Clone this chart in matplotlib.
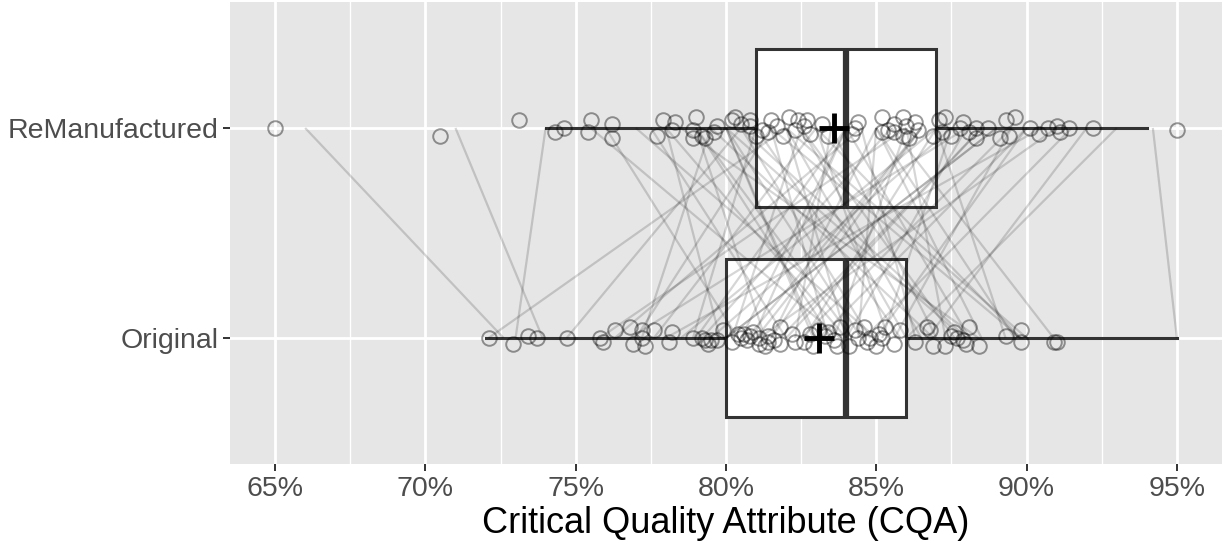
#!/usr/bin/env python3
"""Paired CQA comparison: Original vs ReManufactured, ggplot-like boxplot."""

import matplotlib

matplotlib.use("Agg")
import matplotlib.pyplot as plt
from matplotlib.collections import LineCollection
from matplotlib.ticker import FuncFormatter, MultipleLocator

plt.rcParams["font.family"] = ["Liberation Sans", "DejaVu Sans"]

CATEGORIES = ["Original", "ReManufactured"]

# box statistics (percent)
WHISKER_LO = [72.0, 74.0]
Q1 = [80.0, 81.0]
MEDIAN = [84.0, 84.0]
Q3 = [86.0, 87.0]
WHISKER_HI = [95.0, 94.0]
MEAN = [83.1, 83.6]

# jittered points: x value and vertical offset from the category line
ORIG_X = [
    72.1, 72.9, 73.4, 73.7, 74.7, 75.8, 75.9, 76.3, 76.8, 76.9,
    77.2, 77.2, 77.3, 77.6, 78.1, 78.2, 78.9, 79.2, 79.3, 79.5,
    79.7, 79.9, 80.2, 80.4, 80.5, 80.7, 80.8, 80.9, 81.1, 81.1,
    81.3, 81.4, 81.4, 81.8, 81.8, 82.2, 82.3, 82.6, 82.9, 83.1,
    83.4, 83.6, 83.7, 83.8, 84.3, 84.4, 84.6, 84.7, 84.8, 85.0,
    85.1, 85.3, 85.6, 85.8, 86.3, 86.7, 86.8, 86.9, 87.3, 87.6,
    87.7, 87.9, 88.1, 88.0, 88.4, 89.3, 89.8, 89.8, 90.9, 91.0,
    79.4, 80.6, 81.6, 82.8, 84.1, 85.2, 87.5, 83.3,
]
ORIG_DY = [
    0.00, -0.03, 0.01, 0.00, 0.00, 0.00, -0.02, 0.04, 0.05, -0.03,
    0.04, 0.00, -0.04, 0.04, -0.02, 0.03, 0.00, 0.00, -0.01, -0.01,
    -0.01, 0.04, -0.02, 0.02, 0.00, -0.01, 0.01, 0.03, 0.00, -0.03,
    -0.04, 0.01, -0.02, 0.05, -0.03, 0.02, -0.02, -0.02, -0.04, 0.04,
    0.03, -0.01, -0.04, 0.05, 0.04, 0.00, 0.05, -0.02, 0.00, -0.04,
    0.02, 0.05, -0.03, 0.04, -0.02, 0.05, 0.04, -0.04, -0.04, 0.03,
    0.00, -0.01, 0.05, -0.03, -0.04, 0.01, 0.04, -0.02, -0.02, -0.02,
    -0.03, 0.02, -0.01, 0.02, -0.04, 0.00, 0.01, 0.01,
]
REMAN_X = [
    65.0, 70.5, 73.1, 74.3, 74.6, 75.5, 75.4, 76.2, 76.2, 77.7,
    77.9, 78.2, 78.3, 79.0, 78.9, 78.9, 79.2, 79.3, 79.6, 79.7,
    80.2, 80.3, 80.5, 80.8, 80.8, 81.0, 81.4, 81.5, 81.7, 81.9,
    82.1, 82.3, 82.4, 82.7, 82.8, 83.2, 83.4, 84.3, 84.2, 84.4,
    85.2, 85.2, 85.6, 85.6, 85.9, 86.0, 85.9, 86.1, 86.4, 86.9,
    87.1, 87.3, 87.2, 87.5, 87.9, 87.8, 88.3, 88.3, 88.7, 89.1,
    89.3, 89.6, 89.4, 90.1, 90.4, 90.7, 91.0, 91.1, 91.4, 92.2,
    95.0, 81.2, 82.6, 85.4, 86.3, 88.1,
]
REMAN_DY = [
    0.00, -0.04, 0.04, -0.02, 0.00, 0.04, -0.02, 0.02, -0.05, -0.04,
    0.04, -0.01, 0.03, 0.05, -0.01, -0.05, -0.04, -0.05, -0.02, 0.01,
    0.04, 0.05, 0.02, 0.04, 0.01, -0.04, -0.02, 0.04, 0.01, -0.04,
    0.05, -0.01, 0.04, 0.04, -0.03, 0.02, -0.04, 0.00, -0.03, 0.03,
    0.05, -0.02, 0.02, -0.02, 0.05, 0.01, -0.04, -0.05, -0.01, -0.04,
    0.04, 0.05, -0.02, -0.04, 0.03, 0.00, -0.05, 0.00, 0.00, -0.05,
    0.04, 0.05, -0.04, 0.00, -0.03, 0.00, 0.01, -0.02, 0.00, 0.00,
    -0.01, -0.01, 0.01, -0.01, 0.03, -0.02,
]

# paired values joined by the grey lines (Original -> ReManufactured)
PAIR_ORIG = [
    72.6, 73.9, 73.0, 95.0, 72.1, 74.7, 75.8, 76.3, 76.8, 77.2,
    77.6, 78.0, 78.9, 79.2, 79.5, 79.8, 80.0, 80.2, 80.4, 80.7,
    80.9, 81.1, 81.3, 81.5, 81.8, 82.0, 82.3, 82.6, 82.9, 83.1,
    83.4, 83.6, 83.8, 84.0, 84.0, 84.2, 84.4, 84.6, 84.8, 85.0,
    85.2, 85.4, 85.6, 85.8, 86.0, 86.3, 86.7, 86.9, 87.3, 87.6,
    87.9, 88.1, 88.4, 89.3, 89.8, 89.8, 90.9, 80.0, 81.0, 83.0,
    84.0, 85.0, 86.0, 77.0, 79.0, 82.0, 87.0, 88.0, 89.6, 90.0,
    78.5, 80.5, 82.5, 84.5, 86.5, 88.5, 81.5, 83.5,
]
PAIR_REMAN = [
    66.0, 71.0, 74.0, 94.2, 82.0, 80.5, 86.0, 84.5, 88.0, 79.5,
    83.0, 90.5, 81.0, 85.5, 87.5, 78.0, 89.0, 82.5, 76.0, 86.5,
    84.0, 91.0, 79.0, 85.0, 88.5, 77.5, 83.5, 87.0, 80.0, 90.0,
    81.5, 86.0, 75.5, 88.0, 82.0, 79.0, 85.0, 91.5, 80.5, 77.0,
    87.5, 83.0, 89.5, 81.0, 93.0, 84.5, 92.0, 79.5, 86.0, 82.5,
    80.0, 84.0, 78.5, 87.0, 81.5, 83.0, 85.5, 89.0, 86.5, 80.0,
    78.0, 90.0, 82.0, 81.5, 84.0, 88.5, 83.5, 80.5, 85.0, 82.0,
    87.0, 84.0, 89.5, 80.0, 82.5, 85.0, 86.5, 79.0,
]

X_TICKS = [65, 70, 75, 80, 85, 90, 95]

DARK = "#333333"

fig = plt.figure(figsize=(12.3, 5.48), dpi=100)
ax = fig.add_axes([0.187, 0.1533, 0.8065, 0.8431])
ax.set_facecolor("#E6E6E6")
for side in ax.spines.values():
    side.set_visible(False)

# boxes first so the lines and points sit on top
stats = []
for i, name in enumerate(CATEGORIES):
    stats.append({
        "label": name, "whislo": WHISKER_LO[i], "q1": Q1[i], "med": MEDIAN[i],
        "q3": Q3[i], "whishi": WHISKER_HI[i], "fliers": [],
    })
ax.bxp(
    stats, positions=[1, 2], widths=0.75, vert=False, patch_artist=True,
    showcaps=False, showfliers=False,
    boxprops=dict(facecolor="white", edgecolor=DARK, linewidth=2.2),
    medianprops=dict(color=DARK, linewidth=4.5, solid_capstyle="butt"),
    whiskerprops=dict(color=DARK, linewidth=2.2),
    zorder=2,
)

segments = [[(o, 1), (r, 2)] for o, r in zip(PAIR_ORIG, PAIR_REMAN)]
ax.add_collection(LineCollection(segments, colors="black", alpha=0.16,
                                 linewidths=1.6, zorder=3))

ax.plot(ORIG_X, [1 + d for d in ORIG_DY], "o", ms=10.5, mfc="none",
        mec="black", mew=1.4, alpha=0.4, zorder=4)
ax.plot(REMAN_X, [2 + d for d in REMAN_DY], "o", ms=10.5, mfc="none",
        mec="black", mew=1.4, alpha=0.4, zorder=4)

ax.plot(MEAN, [1, 2], "+", color="black", ms=22, mew=3.5, zorder=5)

ax.set_xlim(63.5, 96.5)
ax.set_ylim(0.4, 2.6)
ax.set_xticks(X_TICKS)
ax.xaxis.set_minor_locator(MultipleLocator(2.5))
ax.xaxis.set_major_formatter(FuncFormatter(lambda v, _: f"{v:.0f}%"))
ax.set_yticks([1, 2])
ax.set_yticklabels(CATEGORIES)

ax.grid(True, which="major", color="white", linewidth=2.0, zorder=0)
ax.grid(True, which="minor", axis="x", color="white", linewidth=1.0, zorder=0)
ax.set_axisbelow(True)

ax.tick_params(axis="both", which="major", length=5, width=1.4, color=DARK,
               labelsize=20.5, labelcolor="#4D4D4D", pad=3.5)
ax.tick_params(axis="x", which="minor", length=0)
ax.set_xlabel("Critical Quality Attribute (CQA)", fontsize=26,
              color="black", labelpad=3)

fig.savefig("out.png", dpi=100, facecolor="white")
